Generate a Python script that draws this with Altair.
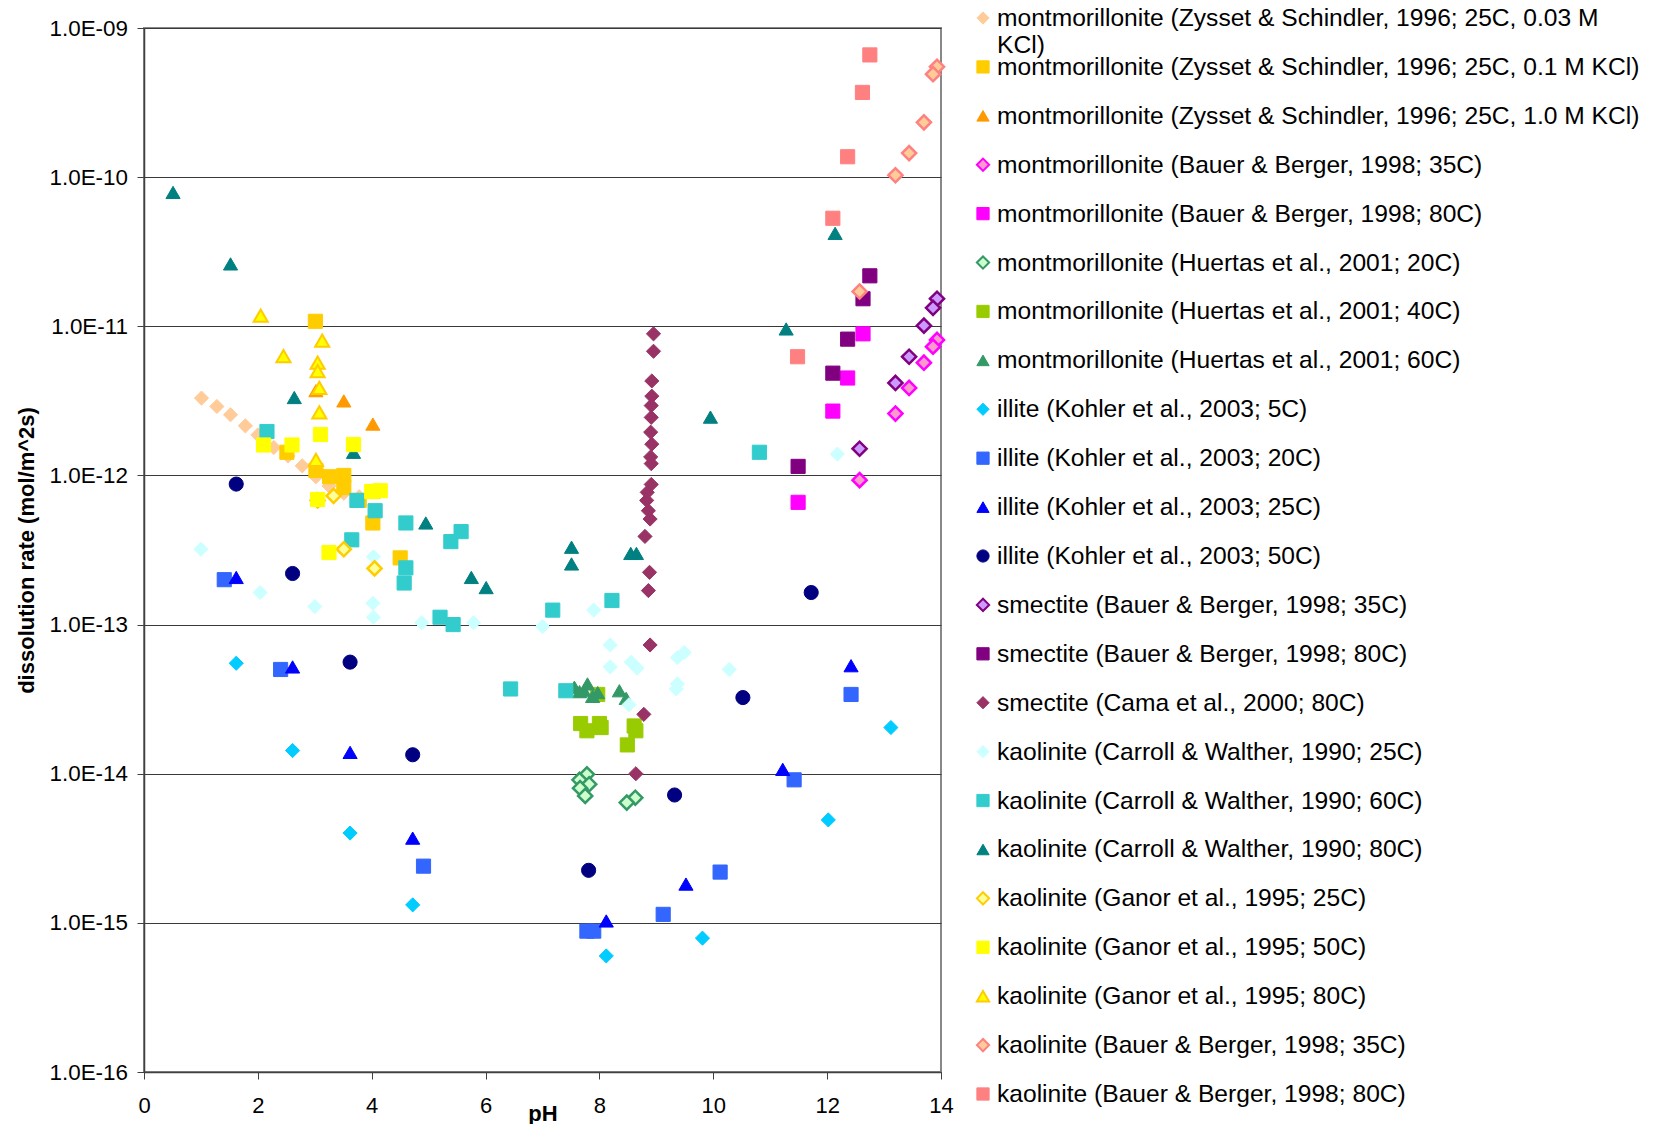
import altair as alt
import pandas as pd

# ---------------- series names (legend order) ----------------
SERIES = [
    "montmorillonite (Zysset & Schindler, 1996; 25C, 0.03 M KCl)",
    "montmorillonite (Zysset & Schindler, 1996; 25C, 0.1 M KCl)",
    "montmorillonite (Zysset & Schindler, 1996; 25C, 1.0 M KCl)",
    "montmorillonite (Bauer & Berger, 1998; 35C)",
    "montmorillonite (Bauer & Berger, 1998; 80C)",
    "montmorillonite (Huertas et al., 2001; 20C)",
    "montmorillonite (Huertas et al., 2001; 40C)",
    "montmorillonite (Huertas et al., 2001; 60C)",
    "illite (Kohler et al., 2003; 5C)",
    "illite (Kohler et al., 2003; 20C)",
    "illite (Kohler et al., 2003; 25C)",
    "illite (Kohler et al., 2003; 50C)",
    "smectite (Bauer & Berger, 1998; 35C)",
    "smectite (Bauer & Berger, 1998; 80C)",
    "smectite (Cama et al., 2000; 80C)",
    "kaolinite (Carroll & Walther, 1990; 25C)",
    "kaolinite (Carroll & Walther, 1990; 60C)",
    "kaolinite (Carroll & Walther, 1990; 80C)",
    "kaolinite (Ganor et al., 1995; 25C)",
    "kaolinite (Ganor et al., 1995; 50C)",
    "kaolinite (Ganor et al., 1995; 80C)",
    "kaolinite (Bauer & Berger, 1998; 35C)",
    "kaolinite (Bauer & Berger, 1998; 80C)",
]

# ---------------- data (pH, dissolution rate mol/m^2s) ----------------
zs003_ph = [1.01, 1.28, 1.52, 1.78, 2.0, 2.28, 2.53, 2.78, 3.02, 3.25, 3.51, 3.78]
zs003_rate = [3.3e-12, 2.9e-12, 2.55e-12, 2.15e-12, 1.87e-12, 1.54e-12, 1.35e-12, 1.16e-12, 9.8e-13, 8.5e-13, 7.6e-13, 7.2e-13]

zs01_ph = [3.01, 2.51, 3.02, 3.26, 3.51, 3.51, 3.78, 4.02, 4.02, 4.50]
zs01_rate = [1.08e-11, 1.43e-12, 1.08e-12, 9.8e-13, 1.0e-12, 8.3e-13, 6.8e-13, 7.8e-13, 4.8e-13, 2.8e-13]

zs10_ph = [3.02, 3.51, 4.02]
zs10_rate = [3.7e-12, 3.16e-12, 2.21e-12]

mbb35_ph = [13.93, 13.86, 13.70, 13.44, 13.20, 12.57]
mbb35_rate = [8.1e-12, 7.3e-12, 5.7e-12, 3.86e-12, 2.6e-12, 9.3e-13]

mbb80_ph = [12.63, 12.36, 12.10, 11.49]
mbb80_rate = [8.9e-12, 4.5e-12, 2.7e-12, 6.6e-13]

hu20_ph = [7.78, 7.65, 7.82, 7.66, 7.75, 8.63, 8.48]
hu20_rate = [9.9e-15, 9.1e-15, 8.5e-15, 8.0e-15, 7.1e-15, 6.9e-15, 6.4e-15]

hu40_ph = [7.97, 7.67, 8.0, 7.78, 8.03, 8.61, 8.64, 8.49]
hu40_rate = [3.4e-14, 2.17e-14, 2.17e-14, 1.94e-14, 2.04e-14, 2.09e-14, 1.94e-14, 1.56e-14]

hu60_ph = [7.56, 7.65, 7.73, 7.79, 7.97, 7.88, 8.35, 8.47]
hu60_rate = [3.8e-14, 3.55e-14, 3.6e-14, 4.0e-14, 3.5e-14, 3.3e-14, 3.6e-14, 3.2e-14]

il5_ph = [1.62, 2.61, 3.62, 4.72, 8.12, 9.81, 12.02, 13.12]
il5_rate = [5.5e-14, 1.43e-14, 4.0e-15, 1.32e-15, 6.0e-16, 7.9e-16, 4.9e-15, 2.04e-14]

il20_ph = [1.41, 2.40, 4.91, 7.78, 7.90, 9.12, 10.12, 11.42, 12.42]
il20_rate = [2.0e-13, 5.0e-14, 2.4e-15, 8.8e-16, 8.8e-16, 1.14e-15, 2.19e-15, 9.1e-15, 3.4e-14]

il25_ph = [1.62, 2.61, 3.62, 4.72, 8.12, 9.52, 11.22, 12.42]
il25_rate = [2.07e-13, 5.2e-14, 1.39e-14, 3.7e-15, 1.03e-15, 1.82e-15, 1.07e-14, 5.3e-14]

il50_ph = [1.62, 2.61, 3.62, 4.72, 7.81, 9.32, 10.52, 11.72]
il50_rate = [8.75e-13, 2.2e-13, 5.6e-14, 1.34e-14, 2.25e-15, 7.2e-15, 3.24e-14, 1.64e-13]

sbb35_ph = [13.93, 13.86, 13.70, 13.44, 13.20, 12.57]
sbb35_rate = [1.53e-11, 1.33e-11, 1.01e-11, 6.25e-12, 4.17e-12, 1.51e-12]

sbb80_ph = [12.75, 12.63, 12.36, 12.10, 11.49]
sbb80_rate = [2.18e-11, 1.53e-11, 8.2e-12, 4.85e-12, 1.15e-12]

cama_ph = [8.95, 8.95, 8.92, 8.92, 8.91, 8.91, 8.90, 8.92, 8.90, 8.91, 8.91,
           8.84, 8.83, 8.86, 8.89, 8.80, 8.88, 8.86, 8.89, 8.78, 8.64]
cama_rate = [8.9e-12, 6.8e-12, 4.3e-12, 3.4e-12, 2.94e-12, 2.45e-12, 1.95e-12, 1.62e-12, 1.33e-12, 1.2e-12, 8.7e-13,
             7.7e-13, 6.8e-13, 5.8e-13, 5.1e-13, 3.9e-13, 2.24e-13, 1.69e-13, 7.3e-14, 2.5e-14, 1.0e-14]

cw25_ph = [1.0, 2.04, 3.0, 4.03, 4.02, 4.03, 4.88, 5.79, 7.0, 7.90, 8.19, 8.19, 8.56, 8.66,
           9.37, 9.49, 9.37, 9.35, 8.52, 10.28, 12.18]
cw25_rate = [3.2e-13, 1.64e-13, 1.32e-13, 2.85e-13, 1.39e-13, 1.12e-13, 1.03e-13, 1.03e-13, 9.7e-14, 1.25e-13,
             7.3e-14, 5.2e-14, 5.6e-14, 5.1e-14, 6.0e-14, 6.5e-14, 4.0e-14, 3.7e-14, 2.9e-14, 5.0e-14, 1.39e-12]

cw60_ph = [2.16, 3.74, 4.06, 4.60, 3.65, 5.57, 5.39, 4.60, 4.57, 5.20, 5.43, 7.18, 8.22, 6.44, 7.41, 10.81]
cw60_rate = [1.97e-12, 6.8e-13, 5.8e-13, 4.8e-13, 3.7e-13, 4.2e-13, 3.6e-13, 2.4e-13, 1.9e-13, 1.12e-13,
             1.0e-13, 1.25e-13, 1.45e-13, 3.7e-14, 3.6e-14, 1.43e-12]

cw80_ph = [0.51, 1.52, 2.64, 3.68, 4.95, 5.75, 6.01, 7.51, 7.51, 8.55, 8.65, 9.95, 11.28, 12.14]
cw80_rate = [7.9e-11, 2.62e-11, 3.33e-12, 1.43e-12, 4.8e-13, 2.07e-13, 1.77e-13, 3.3e-13, 2.55e-13,
             3.0e-13, 3.0e-13, 2.46e-12, 9.6e-12, 4.2e-11]

g25_ph = [3.05, 3.33, 3.51, 4.05]
g25_rate = [6.8e-13, 7.3e-13, 3.2e-13, 2.38e-13]

g50_ph = [2.10, 2.60, 3.10, 3.68, 3.05, 4.0, 4.15, 3.25]
g50_rate = [1.6e-12, 1.6e-12, 1.88e-12, 1.61e-12, 6.9e-13, 7.8e-13, 7.9e-13, 3.04e-13]

g80_ph = [2.05, 2.45, 3.13, 3.05, 3.05, 3.08, 3.08, 3.02]
g80_rate = [1.18e-11, 6.3e-12, 8.0e-12, 5.7e-12, 5.0e-12, 3.86e-12, 2.65e-12, 1.27e-12]

kbb35_ph = [13.93, 13.86, 13.70, 13.44, 13.20, 12.57]
kbb35_rate = [5.5e-10, 4.9e-10, 2.33e-10, 1.45e-10, 1.03e-10, 1.71e-11]

kbb80_ph = [12.75, 12.62, 12.36, 12.10, 11.48]
kbb80_rate = [6.6e-10, 3.7e-10, 1.37e-10, 5.3e-11, 6.25e-12]

X_TICKS = [0, 2, 4, 6, 8, 10, 12, 14]
Y_TICKS = [1e-16, 1e-15, 1e-14, 1e-13, 1e-12, 1e-11, 1e-10, 1e-9]

# ---------------- styles ----------------
FILLS = ["#FFCC99", "#FFCC00", "#FF9900", "#FF99CC", "#FF00FF", "#CCFFCC", "#99CC00", "#339966",
         "#00CCFF", "#3366FF", "#0000FF", "#000080", "#CC99FF", "#800080", "#993366",
         "#CCFFFF", "#33CCCC", "#008080", "#FFFF99", "#FFFF00", "#FFFF00", "#FFCC99", "#FF8080"]
STROKES = ["#FFCC99", "#FFCC00", "#FF9900", "#FF00FF", "#FF00FF", "#339966", "#99CC00", "#339966",
           "#00CCFF", "#3366FF", "#0000FF", "#000080", "#800080", "#800080", "#993366",
           "#CCFFFF", "#33CCCC", "#008080", "#FFCC00", "#FFFF00", "#FFCC00", "#FF8080", "#FF8080"]
SHAPES = ["diamond", "square", "triangle-up", "diamond", "square", "diamond", "square", "triangle-up",
          "diamond", "square", "triangle-up", "circle", "diamond", "square", "diamond",
          "diamond", "square", "triangle-up", "diamond", "square", "triangle-up", "diamond", "square"]
WIDTHS = [1, 1, 1, 2.5, 1, 2.5, 1, 1, 1, 1, 1, 1, 2.5, 1, 1, 1, 1, 1, 2.5, 1, 2, 2.5, 1]

series_data = [
    (zs003_ph, zs003_rate), (zs01_ph, zs01_rate), (zs10_ph, zs10_rate),
    (mbb35_ph, mbb35_rate), (mbb80_ph, mbb80_rate),
    (hu20_ph, hu20_rate), (hu40_ph, hu40_rate), (hu60_ph, hu60_rate),
    (il5_ph, il5_rate), (il20_ph, il20_rate), (il25_ph, il25_rate), (il50_ph, il50_rate),
    (sbb35_ph, sbb35_rate), (sbb80_ph, sbb80_rate), (cama_ph, cama_rate),
    (cw25_ph, cw25_rate), (cw60_ph, cw60_rate), (cw80_ph, cw80_rate),
    (g25_ph, g25_rate), (g50_ph, g50_rate), (g80_ph, g80_rate),
    (kbb35_ph, kbb35_rate), (kbb80_ph, kbb80_rate),
]

rows = []
for name, (phs, rates), f, s, sh, w in zip(SERIES, series_data, FILLS, STROKES, SHAPES, WIDTHS):
    for p, r in zip(phs, rates):
        rows.append({"series": name, "pH": p, "rate": r, "fill": f, "stroke": s, "shape": sh, "sw": w})
df = pd.DataFrame(rows)

FONT = "Liberation Sans"

y_label_expr = ("'1.0E-' + (round(-log(datum.value)/LN10) < 10 ? '0' : '') + "
                "round(-log(datum.value)/LN10)")

main = alt.Chart(df).mark_point(filled=True, size=200, opacity=1, fillOpacity=1).encode(
    x=alt.X("pH:Q", scale=alt.Scale(domain=[0, 14], nice=False, zero=False),
            axis=alt.Axis(values=X_TICKS, format="d", title="pH", grid=False,
                          labelFontSize=22, labelPadding=16, tickSize=7,
                          titleFontSize=22, titleFontWeight="bold", titleY=41,
                          titleBaseline="middle", labelFlush=False)),
    y=alt.Y("rate:Q", scale=alt.Scale(type="log", domain=[1e-16, 1e-9], nice=False),
            axis=alt.Axis(values=Y_TICKS, labelExpr=y_label_expr,
                          title="dissolution rate (mol/m^2s)", grid=True,
                          labelFontSize=22.4, labelPadding=9.5, tickSize=7,
                          titleFontSize=22, titleFontWeight="bold", titleX=-118,
                          titleBaseline="middle", labelFlush=False)),
    fill=alt.Fill("fill:N", scale=None),
    stroke=alt.Stroke("stroke:N", scale=None),
    shape=alt.Shape("shape:N", scale=None),
    strokeWidth=alt.StrokeWidth("sw:Q", scale=None),
).properties(width=797, height=1044,
             view=alt.ViewBackground(stroke="#888888", strokeWidth=2))

LABELS = [SERIES[0].replace("0.03 M KCl)", "0.03 M\nKCl)")] + SERIES[1:]
leg_df = pd.DataFrame({"series": SERIES, "label": LABELS, "fill": FILLS, "stroke": STROKES,
                       "shape": SHAPES, "sw": [min(w, 2) for w in WIDTHS]})
ysc = alt.Scale(domain=SERIES, range=[-10, 1066], padding=0)

leg_sym = alt.Chart(leg_df).mark_point(filled=True, size=150, opacity=1).encode(
    x=alt.value(12),
    y=alt.Y("series:N", scale=ysc, axis=None),
    fill=alt.Fill("fill:N", scale=None),
    stroke=alt.Stroke("stroke:N", scale=None),
    shape=alt.Shape("shape:N", scale=None),
    strokeWidth=alt.StrokeWidth("sw:Q", scale=None),
)
leg_txt = alt.Chart(leg_df).mark_text(align="left", baseline="alphabetic", dy=8, fontSize=24.6,
                                      lineBreak="\n", lineHeight=27, font=FONT, color="black").encode(
    x=alt.value(26),
    y=alt.Y("series:N", scale=ysc, axis=None),
    text="label:N",
)
legend = alt.layer(leg_sym, leg_txt).properties(width=640, height=1044)

chart = alt.hconcat(main, legend, spacing=30, bounds="flush").properties(
    padding={"left": 14, "top": 5, "right": 5, "bottom": 5}
).configure(font=FONT).configure_view(stroke="transparent").configure_axis(
    labelColor="black", titleColor="black", labelFont=FONT, titleFont=FONT,
    domainColor="#404040", domainWidth=1.5, tickColor="#404040",
    gridColor="#3a3a3a", gridWidth=1.1,
)

chart.save("out.html", embed_options={"renderer": "svg", "actions": False})
